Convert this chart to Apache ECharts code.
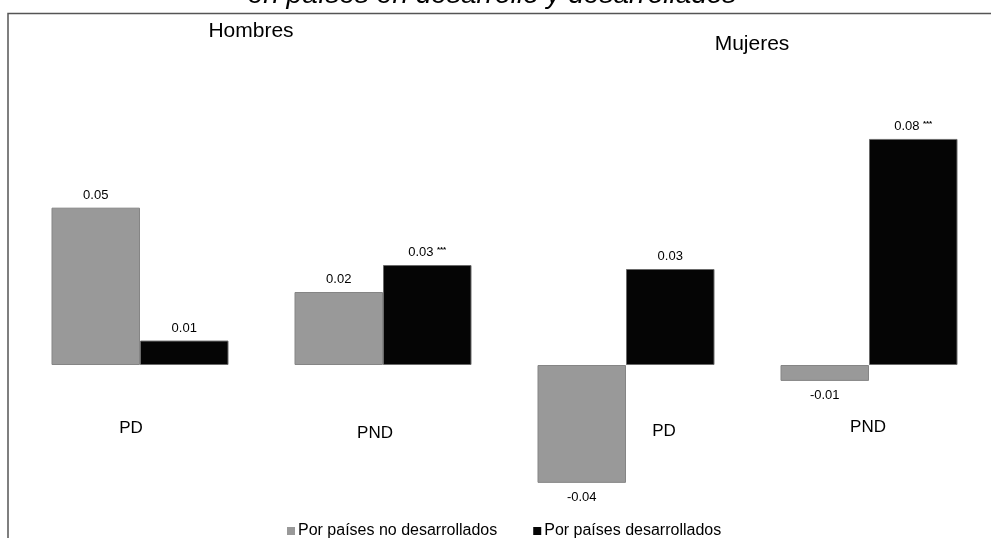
<!DOCTYPE html>
<html>
<head>
<meta charset="utf-8">
<script src="https://cdn.jsdelivr.net/npm/echarts@6/dist/echarts.min.js"></script>
<style>html,body{margin:0;padding:0;background:#fff}#c{width:991px;height:538px}</style>
</head>
<body>
<div id="c"></div>
<script>
var categories = ['PD', 'PND', 'PD', 'PND'];
var groupNames = ['Hombres', 'Mujeres'];
var seriesNames = ['Por países no desarrollados', 'Por países desarrollados'];
var valuesNoDesarrollados = [0.0554, 0.0257, -0.0415, -0.0056];
var valuesDesarrollados = [0.0086, 0.0352, 0.0338, 0.0796];
var labelsNoDesarrollados = ['0.05', '0.02', '-0.04', '-0.01'];
var labelsDesarrollados = ['0.01', '0.03', '0.03', '0.08'];
var starsDesarrollados = ['', '***', '', '***'];
var titleText = 'en países en desarrollo y desarrollados';

var FONT = 'Liberation Sans, Arial, Helvetica, sans-serif';
var chart = echarts.init(document.getElementById('c'), null, {renderer: 'canvas'});

// per-category label offsets (padding) to mimic hand placed labels
var catPad = [[1, 18, 0, 0], [6, 16, 0, 0], [4, 0, 0, 76], [0, 2, 0, 0]];

function buildData(vals, labels, stars) {
  return vals.map(function (v, i) {
    var s = stars && stars[i] ? ' {s|' + stars[i] + '}' : '';
    return {
      value: v,
      label: {
        position: v < 0 ? 'bottom' : 'top',
        distance: v < 0 ? 8 : 6,
        formatter: '{v|' + labels[i] + '}' + s
      }
    };
  });
}

var labelCommon = {
  show: true,
  color: '#000',
  fontFamily: FONT,
  rich: {
    v: {fontSize: 13, fontFamily: FONT, color: '#000'},
    s: {fontSize: 8, fontWeight: 'bold', fontFamily: FONT, color: '#000', padding: [0, 0, 5, 0]}
  }
};

var option = {
  animation: false,
  backgroundColor: '#fff',
  grid: {left: 18.5, width: 972, top: 81, height: 454.4, containLabel: false, outerBoundsMode: 'none'},
  legend: {
    left: 282,
    top: 518,
    icon: 'rect',
    itemWidth: 8,
    itemHeight: 8,
    itemGap: 36,
    itemStyle: {borderWidth: 0},
    textStyle: {fontSize: 16, fontFamily: FONT, color: '#000', padding: [0, 0, 0, -2]},
    data: seriesNames
  },
  xAxis: {
    type: 'category',
    position: 'bottom',
    data: categories.map(function (c, i) {
      return {value: c, textStyle: {padding: catPad[i]}};
    }),
    axisLine: {show: false, onZero: false},
    axisTick: {show: false},
    splitLine: {show: false},
    axisLabel: {
      show: true,
      margin: -117,
      fontSize: 17,
      fontFamily: FONT,
      color: '#000',
      verticalAlign: 'top'
    }
  },
  yAxis: {
    type: 'value',
    min: -0.06,
    max: 0.1,
    show: false,
    splitLine: {show: false}
  },
  series: [
    {
      name: seriesNames[0],
      type: 'bar',
      barWidth: 88.5,
      barGap: '0%',
      itemStyle: {color: '#999999', borderColor: '#858585', borderWidth: 1},
      label: labelCommon,
      data: buildData(valuesNoDesarrollados, labelsNoDesarrollados, null)
    },
    {
      name: seriesNames[1],
      type: 'bar',
      barWidth: 88.5,
      barGap: '0%',
      itemStyle: {color: '#050505', borderColor: '#6a6a6a', borderWidth: 1},
      label: labelCommon,
      data: buildData(valuesDesarrollados, labelsDesarrollados, starsDesarrollados)
    }
  ],
  graphic: [
    {
      type: 'rect',
      silent: true,
      z: -1,
      shape: {x: 8, y: 13.5, width: 1200, height: 800},
      style: {fill: null, stroke: '#555', lineWidth: 1.5}
    },
    {
      type: 'text',
      style: {
        x: 492, y: 9,
        text: titleText,
        align: 'center',
        verticalAlign: 'bottom',
        font: 'italic 28px ' + FONT,
        fill: '#000'
      }
    },
    {
      type: 'text',
      style: {
        x: 251, y: 31,
        text: groupNames[0],
        align: 'center',
        verticalAlign: 'middle',
        font: '21px ' + FONT,
        fill: '#000'
      }
    },
    {
      type: 'text',
      style: {
        x: 752, y: 44,
        text: groupNames[1],
        align: 'center',
        verticalAlign: 'middle',
        font: '21px ' + FONT,
        fill: '#000'
      }
    }
  ]
};
chart.setOption(option);
</script>
</body>
</html>
